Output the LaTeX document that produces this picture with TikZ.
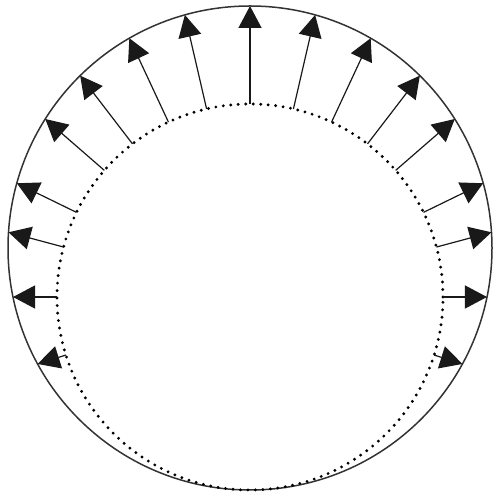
\documentclass[tikz,border=0pt]{standalone}
\usetikzlibrary{calc,arrows.meta}
\tikzset{
  ar/.style={-{Triangle[length=22pt,width=23pt]},line width=1.2pt,black!90},
  rim/.style={line width=1.5pt,black!80},
  dotc/.style={line width=3.2pt,dash pattern=on 0pt off 7.5pt,line cap=round}
}
\begin{document}
\begin{tikzpicture}[x=1pt,y=1pt]
\useasboundingbox (0,0) rectangle (498,495);
\coordinate (co) at (250,247);
\coordinate (ci) at (250,198);
\draw[rim] (co) circle (242);
\draw[dotc] (ci) circle (193);
% arrows run from the dotted rim out to the outer circle
\foreach \a in {-17.5,0,15,26,41,52.5,65,77,90,103,115,127.5,139,154,165,180,197.5}{
  \pgfmathsetmacro\len{10*(4.9*sin(\a)+sqrt(24.2^2-(4.9*cos(\a))^2))}
  \draw[ar] ($(ci)+(\a:193)$) -- ($(ci)+(\a:\len)$);
}
\end{tikzpicture}
\end{document}
